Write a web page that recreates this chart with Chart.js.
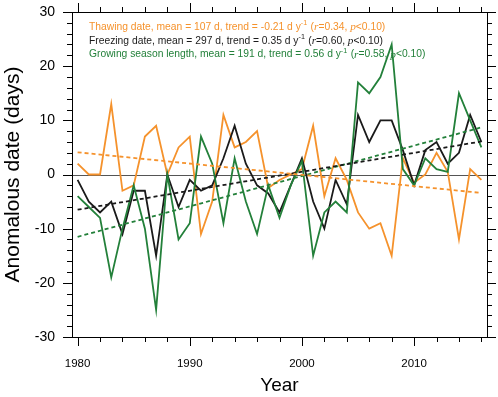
<!DOCTYPE html>
<html><head><meta charset="utf-8">
<script src="https://cdn.jsdelivr.net/npm/chart.js@4"></script>
<style>html,body{margin:0;padding:0;background:#fff;}#wrap{width:498px;height:397px;}</style>
</head><body><div id="wrap"><canvas id="c" width="498" height="397"></canvas></div>
<script>
// ---- data ----
const years = [1980,1981,1982,1983,1984,1985,1986,1987,1988,1989,1990,1991,1992,1993,1994,1995,1996,1997,1998,1999,2000,2001,2002,2003,2004,2005,2006,2007,2008,2009,2010,2011,2012,2013,2014,2015,2016];
const thawing  = [2,0,0,13,-3,-2,7,9,0,5,7,-11,-5,11,5,6,8,-2.5,-1,0,1,9,-4,3,-1,-7,-10,-9,-15,3,-1.5,0,4,0.5,-12,1,-1];
const freezing = [-1,-5,-7,-5,-11,-3,-3,-15,0,-6,-1,-3,-2,3,9,2,-2,-3.5,-7,-2,3,-5,-10,-1,-5.5,11,6,10,10,4.5,-2,4.5,6,2,4,11,6];
const growing  = [-4,-6,-8,-19,-10,-2,-10,-25,0,-12,-9,7,2,-9,3,-5,-11,-2,-8,-2,2.5,-15,-7,-5,-7,17,15,18,24,1,-2,3,1,0.5,15,10,5];
const trendYears = [1980, 2016];
const thawTrend  = [4.1, -3.4];
const freezeTrend = [-6.5, 6.1];
const growTrend  = [-11.5, 8.7];
const xTickLabels = [1980, 1990, 2000, 2010];
const yTickLabels = [-30, -20, -10, 0, 10, 20, 30];
const legendThaw = ['Thawing date, mean = 107 d, trend = -0.21 d y', '-1', ' (', 'r', '=0.34, ', 'p', '<0.10)'];
const legendFreeze = ['Freezing date, mean = 297 d, trend = 0.35 d y', '-1', ' (', 'r', '=0.60, ', 'p', '<0.10)'];
const legendGrow = ['Growing season length, mean = 191 d, trend = 0.56 d y', '-1', ' (', 'r', '=0.58, ', 'p', '<0.10)'];
const xTitle = 'Year';
const yTitle = 'Anomalous date (days)';

const ORANGE = '#F5922C', BLACK = '#1a1a1a', GREEN = '#23803A';
const pts = (xs, ys) => xs.map((x, i) => ({x, y: ys[i]}));

const frameTicks = {
  id: 'frameTicks',
  beforeDatasetsDraw(chart) {
    const {ctx, chartArea: a, scales: {y}} = chart;
    ctx.save();
    ctx.strokeStyle = '#555'; ctx.lineWidth = 1;
    const yy = Math.round(y.getPixelForValue(0)) + 0.5;
    ctx.beginPath(); ctx.moveTo(a.left, yy); ctx.lineTo(a.right, yy); ctx.stroke();
    ctx.restore();
  },
  afterDraw(chart) {
    const {ctx, chartArea: a, scales: {x, y}} = chart;
    ctx.save();
    ctx.strokeStyle = '#000'; ctx.lineWidth = 1;
    ctx.strokeRect(Math.round(a.left) + 0.5, Math.round(a.top) + 0.5, Math.round(a.right - a.left), Math.round(a.bottom - a.top));
    const MAJ = 9, MIN = 5;
    ctx.beginPath();
    for (let yr = Math.ceil(x.min); yr <= x.max; yr++) {
      if (yr % 2 !== 0) continue;
      const len = yr % 10 === 0 ? MAJ : MIN;
      const px = Math.round(x.getPixelForValue(yr)) + 0.5;
      ctx.moveTo(px, a.bottom); ctx.lineTo(px, a.bottom + len);
      ctx.moveTo(px, a.top); ctx.lineTo(px, a.top - len);
    }
    for (let v = y.min; v <= y.max; v += 2) {
      const len = v % 10 === 0 ? MAJ : MIN;
      const py = Math.round(y.getPixelForValue(v)) + 0.5;
      ctx.moveTo(a.left, py); ctx.lineTo(a.left - len, py);
      ctx.moveTo(a.right, py); ctx.lineTo(a.right + len, py);
    }
    ctx.stroke();
    // legend text
    const lines = [[legendThaw, ORANGE], [legendFreeze, BLACK], [legendGrow, GREEN]];
    const fs = 10.3;
    const base = fs + 'px "Liberation Sans", Arial, sans-serif';
    const ital = 'italic ' + (fs + 1) + 'px "Liberation Serif", "Times New Roman", serif';
    const sup = (fs * 0.7) + 'px "Liberation Sans", Arial, sans-serif';
    ctx.textBaseline = 'middle';
    lines.forEach(([segs, col], i) => {
      let cx = a.left + 17;
      const cy = a.top + 15 + i * 13.8;
      ctx.fillStyle = col;
      segs.forEach((s, j) => {
        let f = base, dy = 0;
        if (j === 1) { f = sup; dy = -4; }
        else if (j === 3 || j === 5) { f = ital; }
        ctx.font = f;
        ctx.fillText(s, cx, cy + dy);
        cx += ctx.measureText(s).width + (j === 1 ? 0.5 : 0);
      });
    });
    ctx.restore();
  }
};

const lineDs = (label, data, color, order) => ({
  label, data: pts(years, data), borderColor: color, backgroundColor: color,
  borderWidth: 1.8, pointRadius: 0, tension: 0, order, fill: false
});
const trendDs = (label, data, color, order) => ({
  label, data: pts(trendYears, data), borderColor: color, backgroundColor: color,
  borderWidth: 1.8, borderDash: [4, 3], pointRadius: 0, tension: 0, order, fill: false
});

new Chart(document.getElementById('c'), {
  type: 'line',
  data: {
    datasets: [
      trendDs('Thawing trend', thawTrend, ORANGE, 1),
      trendDs('Freezing trend', freezeTrend, BLACK, 1),
      trendDs('Growing trend', growTrend, GREEN, 1),
      lineDs('Growing season length', growing, GREEN, 2),
      lineDs('Freezing date', freezing, BLACK, 3),
      lineDs('Thawing date', thawing, ORANGE, 4)
    ]
  },
  options: {
    responsive: false, animation: false, devicePixelRatio: 1,
    layout: {padding: {top: 12, right: 11, left: 0, bottom: 0}},
    plugins: {legend: {display: false}, tooltip: {enabled: false}},
    scales: {
      x: {
        type: 'linear', min: 1979.5, max: 2016.5,
        afterFit(s) { s.height = 60; s.paddingLeft = 0; s.paddingRight = 0; },
        afterBuildTicks(s) { s.ticks = xTickLabels.map(v => ({value: v})); },
        grid: {display: false, drawTicks: false, tickLength: 0},
        border: {display: false},
        ticks: {padding: 20, color: '#000', maxRotation: 0, autoSkip: false,
          font: {family: '"Liberation Sans", Arial, sans-serif', size: 11.5},
          callback: v => String(v)},
        title: {display: true, text: xTitle, color: '#000', padding: {top: 0, bottom: 0},
          font: {family: '"Liberation Sans", Arial, sans-serif', size: 19}}
      },
      y: {
        type: 'linear', min: -30, max: 30,
        afterFit(s) { s.width = 72; s.paddingTop = 0; s.paddingBottom = 0; },
        afterBuildTicks(s) { s.ticks = yTickLabels.map(v => ({value: v})); },
        grid: {display: false, drawTicks: false, tickLength: 0},
        border: {display: false},
        ticks: {padding: 17, color: '#000', autoSkip: false,
          font: {family: '"Liberation Sans", Arial, sans-serif', size: 14}},
        title: {display: true, text: yTitle, color: '#000', padding: {top: 1, bottom: 0},
          font: {family: '"Liberation Sans", Arial, sans-serif', size: 21}}
      }
    }
  },
  plugins: [frameTicks]
});
</script></body></html>
